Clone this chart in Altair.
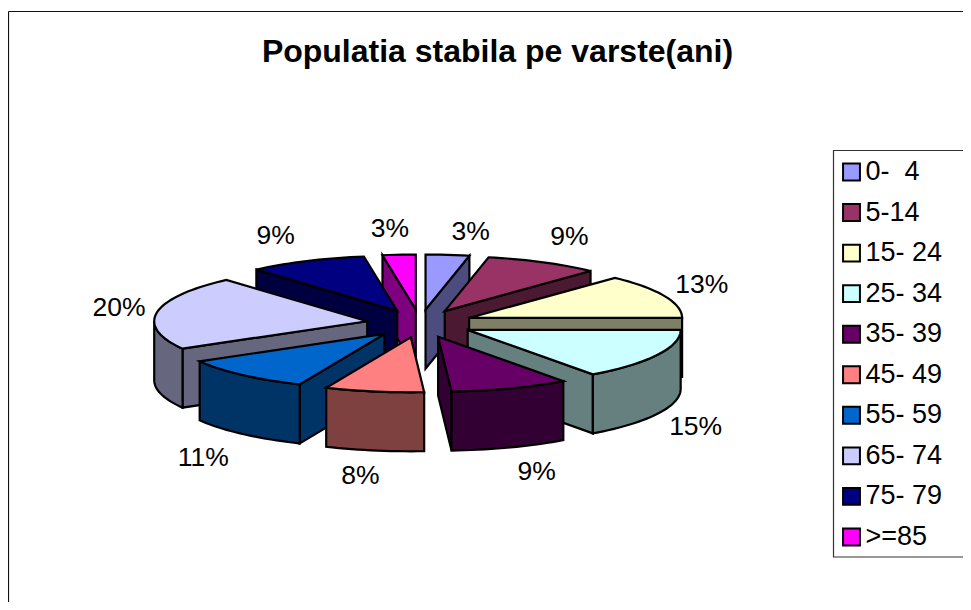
import math
import altair as alt

# ---- data
categories = ["0-\u00a0\u00a04", "5-14", "15- 24", "25- 34", "35- 39", "45- 49", "55- 59", "65- 74", "75- 79", ">=85"]
shares = [3.3, 8.7, 13.0, 15.0, 9.0, 7.5, 10.2, 21.8, 9.0, 2.5]   # slice sizes as drawn
labels = ["3%", "9%", "13%", "15%", "9%", "8%", "11%", "20%", "9%", "3%"]
colors = ["#9999FF", "#993366", "#FFFFCC", "#CCFFFF", "#660066", "#FF8080", "#0066CC", "#CCCCFF", "#000080", "#FF00FF"]
title = "Populatia stabila pe varste(ani)"

# ---- layout (chart coordinates = page pixels minus the 8px margin)
CX, CY = 412.0, 315.5
RX, RY = 213.0, 55.0
EX, EY = 53.5, 14.0
DEPTH = 59.0
FONT = "Liberation Sans"
label_nudge_x = [14, 3, -4, -2, 8, -2, -8, 6, -9, -1]
label_nudge_y = [5, 0, 0, 0, -2, -2, 3, 0, 0, 2]


def darken(h):
    return "#" + "".join(f"{int(h[i:i+2], 16) // 2:02X}" for i in (1, 3, 5))


def rim(tx, ty, a, dz=0.0):
    return [tx + RX * math.sin(a), ty - RY * math.cos(a) + dz]


def arc(tx, ty, a0, a1, dz=0.0):
    n = max(2, int(abs(a1 - a0) / 0.03))
    return [rim(tx, ty, a0 + (a1 - a0) * i / n, dz) for i in range(n + 1)]


def feature(ring, fill):
    ring = ring + [ring[0]]
    return {"type": "Feature", "properties": {"fill": fill},
            "geometry": {"type": "Polygon", "coordinates": [ring]}}


slices = []
cum = 0.0
for i, s in enumerate(shares):
    a0 = cum / 100 * 2 * math.pi
    cum += s
    a1 = cum / 100 * 2 * math.pi
    slices.append((i, a0, a1, (a0 + a1) / 2))

features = []
for i, a0, a1, mid in sorted(slices, key=lambda t: -math.cos(t[3])):
    tx = CX + EX * math.sin(mid)
    ty = CY - EY * math.cos(mid)
    side = darken(colors[i])
    for a, visible in ((a0, math.sin(a0) < -1e-6), (a1, math.sin(a1) > 1e-6)):
        if visible:
            features.append(feature([[tx, ty], rim(tx, ty, a), rim(tx, ty, a, DEPTH), [tx, ty + DEPTH]], side))
    lo, hi = max(a0, math.pi / 2), min(a1, 3 * math.pi / 2)
    if hi > lo:
        features.append(feature(arc(tx, ty, lo, hi) + arc(tx, ty, hi, lo, DEPTH), side))
    features.append(feature([[tx, ty]] + arc(tx, ty, a0, a1), colors[i]))

label_rows = []
for i, a0, a1, mid in slices:
    s, c = math.sin(mid), math.cos(mid)
    label_rows.append({
        "t": labels[i],
        "x": CX + (5 if s > 0 else -5) + 306 * s + label_nudge_x[i],
        "y": CY - 97 * c + (DEPTH if c < 0 else 0) + label_nudge_y[i],
    })

ROW0, ROW = 164.0, 40.55
legend_rows = [{"t": c, "f": colors[i], "y": ROW0 + ROW * i} for i, c in enumerate(categories)]

px_x = alt.X("x:Q", scale=None)
px_y = alt.Y("y:Q", scale=None)

pie = alt.Chart(alt.Data(values=features)).mark_geoshape(
    stroke="black", strokeWidth=2.2, strokeJoin="miter"
).encode(fill=alt.Fill("properties.fill:N", scale=None)).project(type="identity", scale=1, translate=[0, 0])

pct = alt.Chart(alt.Data(values=label_rows)).mark_text(
    font=FONT, fontSize=26.5, color="black", align="center", baseline="middle"
).encode(x=px_x, y=px_y, text="t:N")

frame_top = alt.Chart(alt.Data(values=[{"a": 0}])).mark_rule(color="#111111", strokeWidth=1.2).encode(
    x=alt.value(0.5), x2=alt.value(955), y=alt.value(3.5))
frame_left = alt.Chart(alt.Data(values=[{"a": 0}])).mark_rule(color="#111111", strokeWidth=1.2).encode(
    x=alt.value(0.5), y=alt.value(3.5), y2=alt.value(594))

legend_box = alt.Chart(alt.Data(values=[{"a": 0}])).mark_rect(
    fill="white", stroke="#333333", strokeWidth=1.2
).encode(x=alt.value(825.5), x2=alt.value(1000), y=alt.value(142.5), y2=alt.value(549))

swatches = alt.Chart(alt.Data(values=legend_rows)).mark_square(
    size=285, stroke="black", strokeWidth=2, opacity=1
).encode(x=alt.value(843.5), y=alt.Y("y:Q", scale=None), fill=alt.Fill("f:N", scale=None))

legend_text = alt.Chart(alt.Data(values=legend_rows)).mark_text(
    font=FONT, fontSize=27, color="black", align="left", baseline="middle"
).encode(x=alt.value(857.5), y=alt.Y("y:Q", scale=None), text="t:N")

chart = alt.layer(frame_top, frame_left, pie, pct, legend_box, swatches, legend_text).properties(
    width=955, height=594,
    padding=0,
    autosize=alt.AutoSizeParams(type="none"),
    title=alt.TitleParams(title, font=FONT, fontSize=32, fontWeight="bold", color="black",
                          anchor="middle", dx=12, dy=65, frame="group"),
).configure_view(stroke=None)

chart.save("out.html", embed_options={"renderer": "svg", "actions": False})
